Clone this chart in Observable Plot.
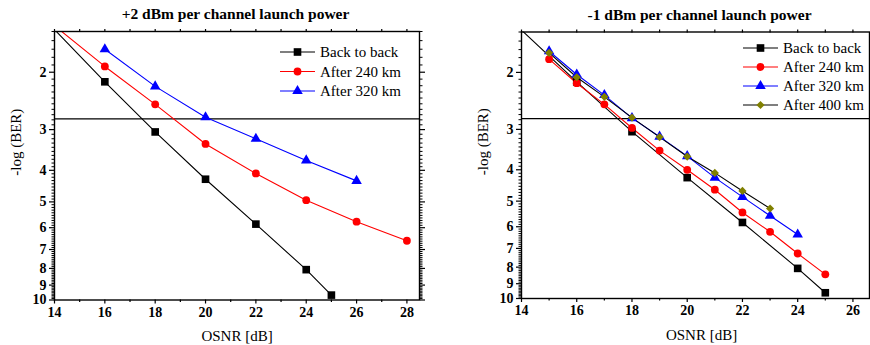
<!DOCTYPE html>
<html><head><meta charset="utf-8">
<script src="https://cdn.jsdelivr.net/npm/d3@7"></script>
<script src="https://cdn.jsdelivr.net/npm/@observablehq/plot@0.6"></script>
<style>
body{margin:0;background:#fff;}
#wrap{position:relative;width:870px;height:345px;overflow:hidden;font-family:'Liberation Serif','Times New Roman',serif;}
#wrap svg, #wrap svg text{font-family:'Liberation Serif','Times New Roman',serif !important;}
.panel{position:absolute;top:0;}
#legend{position:absolute;left:0;top:0;pointer-events:none;}
</style></head><body><div id="wrap"></div>
<script>
// ---------- data (OSNR in dB, -log(BER)) ----------
const leftTitle = "+2 dBm per channel launch power";
const rightTitle = "-1 dBm per channel launch power";
const xLabel = "OSNR [dB]";
const yLabel = "-log (BER)";

const leftB2B_osnr = [14, 16, 18, 20, 22, 24, 25];
const leftB2B_q    = [1.48, 2.14, 3.05, 4.26, 5.85, 8.07, 9.66];
const left240_osnr = [14, 16, 18, 20, 22, 24, 26, 28];
const left240_q    = [1.44, 1.92, 2.51, 3.32, 4.09, 4.94, 5.75, 6.58];
const left320_osnr = [16, 18, 20, 22, 24, 26];
const left320_q    = [1.70, 2.21, 2.75, 3.20, 3.73, 4.31];

const rightB2B_osnr = [14, 16, 18, 20, 22, 24, 25];
const rightB2B_q    = [1.48, 2.14, 3.05, 4.23, 5.82, 8.07, 9.60];
const right240_osnr = [15, 16, 17, 18, 19, 20, 21, 22, 23, 24, 25];
const right240_q    = [1.82, 2.16, 2.51, 2.97, 3.49, 4.00, 4.61, 5.42, 6.22, 7.26, 8.42];
const right320_osnr = [15, 16, 17, 18, 19, 20, 21, 22, 23, 24];
const right320_q    = [1.72, 2.03, 2.35, 2.77, 3.16, 3.63, 4.23, 4.85, 5.55, 6.34];
const right400_osnr = [15, 16, 17, 18, 19, 20, 21, 22, 23];
const right400_q    = [1.74, 2.07, 2.38, 2.76, 3.17, 3.64, 4.09, 4.65, 5.27];

const fecThreshold = 2.78;
const xTicksLeft  = [14, 16, 18, 20, 22, 24, 26, 28];
const xTicksRight = [14, 16, 18, 20, 22, 24, 26];
const yTicks = [2, 3, 4, 5, 6, 7, 8, 9, 10];

// ---------- styles ----------
const styles = {
  "Back to back": {line: "#000000", fill: "#000000", symbol: "square", r: 4.3},
  "After 240 km": {line: "#ff0000", fill: "#ff0000", symbol: "circle", r: 3.9},
  "After 320 km": {line: "#0000ff", fill: "#0000ff", symbol: "triangle", r: 3.9},
  "After 400 km": {line: "#000000", fill: "#808000", symbol: "diamond2", r: 3.7}
};

const toRows = (name, xs, ys) => xs.map((x, i) => ({series: name, x, q: ys[i]}));

const leftSeries = [
  toRows("Back to back", leftB2B_osnr, leftB2B_q),
  toRows("After 240 km", left240_osnr, left240_q),
  toRows("After 320 km", left320_osnr, left320_q)
];
const rightSeries = [
  toRows("Back to back", rightB2B_osnr, rightB2B_q),
  toRows("After 240 km", right240_osnr, right240_q),
  toRows("After 320 km", right320_osnr, right320_q),
  toRows("After 400 km", right400_osnr, right400_q)
];

const yMin = 1.5, yMax = 10;
const yMinor = d3.range(15, 101).map(d => d / 10).filter(d => !Number.isInteger(d));
const FONT = "'Liberation Serif', 'Times New Roman', serif";
const blank = () => "";

function panel({series, xDomain, xTicks, title, marginLeft, marginRight, marginTop, marginBottom, titleDx, labelDx}) {
  const xAll = d3.range(Math.ceil(xDomain[0]), Math.floor(xDomain[1]) + 1);
  const xMinor = xAll.filter(d => !xTicks.includes(d));
  const marks = [
    Plot.ruleY([fecThreshold], {stroke: "black", strokeWidth: 1.3}),
  ];
  for (const rows of series) {
    const s = styles[rows[0].series];
    marks.push(Plot.line(rows, {x: "x", y: "q", stroke: s.line, strokeWidth: 1.1, clip: true}));
  }
  for (const rows of series) {
    const s = styles[rows[0].series];
    marks.push(Plot.dot(rows, {x: "x", y: "q", fill: s.fill, symbol: s.symbol, r: s.r, stroke: "none",
      filter: d => d.q >= yMin && d.q <= yMax}));
  }
  marks.push(
    Plot.axisX({ticks: xTicks, tickSize: 4, tickPadding: 3, fontSize: 14, fontWeight: "bold", label: null, strokeWidth: 1.2}),
    Plot.axisX({ticks: xMinor, tickSize: 2.5, tickFormat: blank, label: null, strokeWidth: 1.2}),
    Plot.axisX({anchor: "top", ticks: xAll, tickSize: 3, tickFormat: blank, label: null, strokeWidth: 1.2}),
    Plot.axisY({ticks: yTicks, tickSize: 5, tickPadding: 3, fontSize: 14, fontWeight: "bold", label: null, tickFormat: d => String(d), strokeWidth: 1.2}),
    Plot.axisY({ticks: yMinor, tickSize: 2.5, tickFormat: blank, label: null, strokeWidth: 1}),
    Plot.axisY({anchor: "right", ticks: yTicks, tickSize: 5, tickFormat: blank, label: null, strokeWidth: 1.2}),
    Plot.axisY({anchor: "right", ticks: yMinor, tickSize: 2.5, tickFormat: blank, label: null, strokeWidth: 1}),
    Plot.frame({stroke: "black", strokeWidth: 1.4}),
    Plot.text([title], {text: d => d, frameAnchor: "top", dy: -17, dx: titleDx, fontSize: 15.5, fontWeight: "bold", lineAnchor: "middle"}),
    Plot.text([xLabel], {text: d => d, frameAnchor: "bottom", dy: 36.5, dx: labelDx, fontSize: 15, lineAnchor: "middle"}),
    Plot.text([yLabel], {text: d => d, frameAnchor: "left", dx: -38, dy: 10, rotate: -90, fontSize: 15, lineAnchor: "middle"})
  );
  return Plot.plot({
    width: 435, height: 345,
    marginLeft, marginRight, marginTop, marginBottom,
    style: {fontFamily: FONT, color: "black", background: "transparent", overflow: "visible"},
    x: {domain: xDomain},
    y: {type: "log", domain: [yMin, yMax], reverse: true},
    marks
  });
}

const wrap = document.getElementById("wrap");
const left = panel({series: leftSeries, xDomain: [14, 28.5], xTicks: xTicksLeft, title: leftTitle,
  marginLeft: 54, marginRight: 16, marginTop: 31, marginBottom: 45.5, titleDx: -1.5, labelDx: 0});
left.classList.add("panel"); left.style.left = "0px";
wrap.appendChild(left);

const right = panel({series: rightSeries, xDomain: [14, 26.6], xTicks: xTicksRight, title: rightTitle,
  marginLeft: 86, marginRight: 1, marginTop: 31.5, marginBottom: 47, titleDx: 4, labelDx: 6});
right.classList.add("panel"); right.style.left = "435px";
wrap.appendChild(right);

// ---------- legends ----------
const legendSvg = d3.select(wrap).append("svg").attr("id", "legend").attr("width", 870).attr("height", 345);
const symbolMap = {square: d3.symbolSquare, circle: d3.symbolCircle, triangle: d3.symbolTriangle, diamond2: d3.symbolDiamond2};
function legend(names, x0, y0, dy) {
  names.forEach((name, i) => {
    const s = styles[name];
    const y = y0 + i * dy;
    legendSvg.append("line").attr("x1", x0).attr("x2", x0 + 35).attr("y1", y).attr("y2", y)
      .attr("stroke", s.line).attr("stroke-width", 1.2);
    legendSvg.append("path").attr("d", d3.symbol(symbolMap[s.symbol], Math.PI * s.r * s.r)())
      .attr("transform", `translate(${x0 + 17.5},${y})`).attr("fill", s.fill);
    legendSvg.append("text").attr("x", x0 + 40).attr("y", y + 5).text(name)
      .attr("font-size", 15).attr("fill", "black");
  });
}
legend(["Back to back", "After 240 km", "After 320 km"], 280, 52, 19.5);
legend(["Back to back", "After 240 km", "After 320 km", "After 400 km"], 743, 48, 19);
</script>
</body></html>
